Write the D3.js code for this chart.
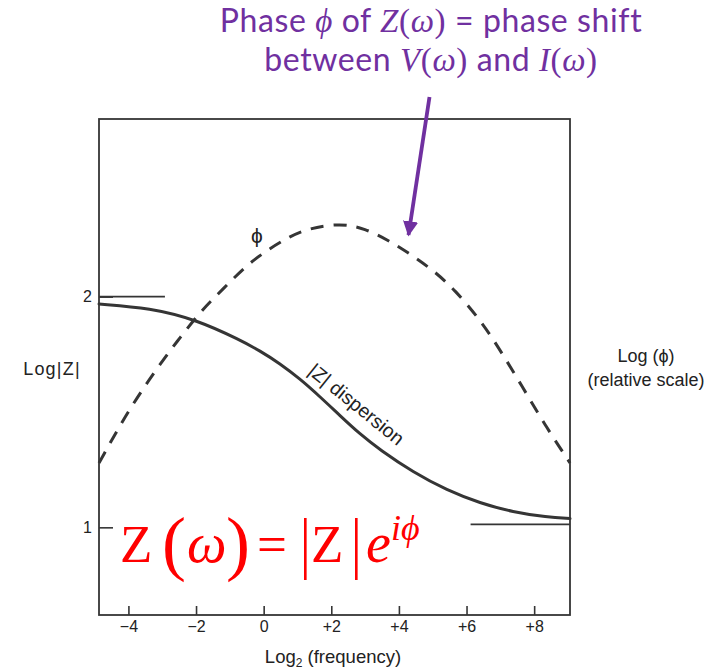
<!DOCTYPE html>
<html><head><meta charset="utf-8">
<script src="https://cdn.jsdelivr.net/npm/d3@7"></script>
<style>
html,body{margin:0;padding:0;background:#fff;}
svg{display:block;}
</style></head>
<body>
<script>
// ---- data ----
const xTicks = [-4, -2, 0, 2, 4, 6, 8];
const xTickLabels = ["\u22124", "\u22122", "0", "+2", "+4", "+6", "+8"];
const yTicks = [1, 2];
const yTickLabels = ["1", "2"];
// |Z| dispersion curve (log2 frequency, log|Z|)
const zFreq = [-4.87, -3.36, -1.97, -0.70, -0.11, 0.48, 1.07, 1.66, 2.26, 2.85, 3.44, 4.42, 5.42, 6.40, 7.37, 8.38, 9.06];
const zLog  = [1.968, 1.951, 1.899, 1.812, 1.765, 1.710, 1.644, 1.567, 1.484, 1.404, 1.336, 1.239, 1.161, 1.105, 1.066, 1.044, 1.038];
// phase curve (log2 frequency, log phi, relative scale)
const phiFreq = [-4.87, -3.95, -2.98, -2.48, -1.85, -1.38, -0.94, -0.46, 0.16, 0.78, 1.31, 2.29, 3.00, 3.68, 4.33, 5.01, 5.66, 6.40, 6.90, 7.67, 8.32, 9.06];
const phiLog  = [1.279, 1.521, 1.725, 1.821, 1.938, 2.007, 2.072, 2.141, 2.207, 2.261, 2.295, 2.319, 2.295, 2.245, 2.185, 2.115, 2.029, 1.899, 1.791, 1.605, 1.443, 1.279];
// asymptotes
const lowAsym = {from: -4.87, to: -2.92, value: 2.0};
const highAsym = {from: 6.12, to: 9.06, value: 1.013};

const W = 722, H = 670;
const ink = "#353535";
const purple = "#7030A0";
const svg = d3.select("body").append("svg").attr("width", W).attr("height", H);

const x = d3.scaleLinear().domain([-4.87, 9.06]).range([99, 570]);
const y = d3.scaleLinear().domain([0.62, 2.77]).range([615, 119]);
const yPhi = d3.scaleLinear().domain([0.62, 2.77]).range([615, 119]);

// frame
svg.append("rect").attr("x", x.range()[0]).attr("y", y.range()[1])
  .attr("width", x.range()[1] - x.range()[0]).attr("height", y.range()[0] - y.range()[1])
  .attr("fill", "none").attr("stroke", ink).attr("stroke-width", 1.8);

const sans = "Liberation Sans, Arial, sans-serif";

// bottom axis: ticks pointing inward
const xAxis = d3.axisBottom(x).tickValues(xTicks).tickSize(-9)
  .tickFormat((d, i) => xTickLabels[i]).tickPadding(6);
const gx = svg.append("g").attr("transform", `translate(0,${y.range()[0]})`).call(xAxis);
gx.select(".domain").remove();
gx.selectAll(".tick line").attr("stroke", ink).attr("stroke-width", 1.6);
gx.selectAll(".tick text").attr("fill", "#222").attr("font-family", sans).attr("font-size", 16);

// left axis
const yAxis = d3.axisLeft(y).tickValues(yTicks).tickSize(-14)
  .tickFormat((d, i) => yTickLabels[i]).tickPadding(7);
const gy = svg.append("g").attr("transform", `translate(${x.range()[0]},0)`).call(yAxis);
gy.select(".domain").remove();
gy.selectAll(".tick line").attr("stroke", ink).attr("stroke-width", 1.6);
gy.selectAll(".tick text").attr("fill", "#222").attr("font-family", sans).attr("font-size", 16);

// asymptote lines
[lowAsym, highAsym].forEach(a => {
  svg.append("line").attr("x1", x(a.from)).attr("x2", x(a.to))
    .attr("y1", y(a.value)).attr("y2", y(a.value))
    .attr("stroke", ink).attr("stroke-width", 1.6);
});

// curves
const zData = zFreq.map((f, i) => [f, zLog[i]]);
const phiData = phiFreq.map((f, i) => [f, phiLog[i]]);
const zLine = d3.line().x(d => x(d[0])).y(d => y(d[1])).curve(d3.curveBasis);
const phiLine = d3.line().x(d => x(d[0])).y(d => yPhi(d[1])).curve(d3.curveBasis);

svg.append("path").attr("d", zLine(zData)).attr("fill", "none")
  .attr("stroke", ink).attr("stroke-width", 3).attr("stroke-linecap", "round");
svg.append("path").attr("d", phiLine(phiData)).attr("fill", "none")
  .attr("stroke", ink).attr("stroke-width", 3).attr("stroke-dasharray", "13,10");

// curve labels
svg.append("text").attr("x", 257).attr("y", 243).attr("text-anchor", "middle")
  .attr("font-family", sans).attr("font-size", 21).attr("fill", "#222").text("\u03D5");
svg.append("text").attr("transform", "translate(307,373) rotate(39)")
  .attr("font-family", sans).attr("font-size", 19.5).attr("fill", "#222").text("|Z| dispersion");

// axis titles
svg.append("text").attr("x", 52).attr("y", 375).attr("text-anchor", "middle")
  .attr("font-family", sans).attr("font-size", 18).attr("letter-spacing", 1.2).attr("fill", "#222").text("Log|Z|");
const rt = svg.append("text").attr("text-anchor", "middle").attr("font-family", sans)
  .attr("font-size", 18).attr("fill", "#222");
rt.append("tspan").attr("x", 646).attr("y", 362).text("Log (\u03D5)");
rt.append("tspan").attr("x", 646).attr("y", 386).text("(relative scale)");
const bt = svg.append("text").attr("x", 333).attr("y", 663).attr("text-anchor", "middle")
  .attr("font-family", sans).attr("font-size", 18.5).attr("fill", "#222");
bt.append("tspan").text("Log");
bt.append("tspan").attr("font-size", 12).attr("dy", 4).text("2");
bt.append("tspan").attr("dy", -4).text(" (frequency)");

// purple title
const gs = "Lato, 'Open Sans', sans-serif";
const serif = "Liberation Serif, 'Times New Roman', serif";
function titleLine(yPos, parts) {
  const t = svg.append("text").attr("x", 431).attr("y", yPos).attr("text-anchor", "middle")
    .attr("fill", purple).attr("font-size", 32).attr("letter-spacing", 0.6).attr("font-family", gs);
  parts.forEach(p => {
    const s = t.append("tspan").text(p[0]);
    if (p[1] === "si") s.attr("font-family", serif).attr("font-style", "italic").attr("font-size", 33);
    if (p[1] === "s") s.attr("font-family", serif).attr("font-size", 33);
  });
}
titleLine(32, [["Phase "], ["\u03D5", "si"], [" of "], ["Z", "si"], ["(", "s"], ["\u03C9", "si"], [")", "s"], [" = phase shift"]]);
titleLine(71, [["between "], ["V", "si"], ["(", "s"], ["\u03C9", "si"], [")", "s"], [" and "], ["I", "si"], ["(", "s"], ["\u03C9", "si"], [")", "s"]]);

// arrow
const defs = svg.append("defs");
defs.append("marker").attr("id", "ah").attr("viewBox", "0 0 10 10").attr("refX", 9).attr("refY", 5)
  .attr("markerWidth", 4).attr("markerHeight", 4.2).attr("markerUnits", "strokeWidth").attr("orient", "auto")
  .append("path").attr("d", "M0,0 L10,5 L0,10 Z").attr("fill", purple);
svg.append("line").attr("x1", 429.5).attr("y1", 97).attr("x2", 408.5).attr("y2", 235)
  .attr("stroke", purple).attr("stroke-width", 3.8).attr("marker-end", "url(#ah)");

// red formula
const red = "#FF0000";
const F = svg.append("g").attr("fill", red).attr("font-family", serif);
function piece(txt, xp, yp, size, italic, sy) {
  const t = F.append("text").attr("font-size", size)
    .attr("font-style", italic ? "italic" : "normal").text(txt);
  if (sy) t.attr("transform", `translate(${xp},${yp}) scale(1,${sy})`);
  else t.attr("x", xp).attr("y", yp);
}
piece("Z", 120, 562, 53, false);
piece("(", 162, 567, 72, false);
piece("\u03C9", 187, 562, 56, true);
piece(")", 226, 567, 72, false);
piece("=", 257, 562, 53, false);
piece("|", 300, 566, 53, false, 1.26);
piece("Z", 311, 562, 53, false);
piece("|", 351, 566, 53, false, 1.26);
piece("e", 366, 562, 56, true);
piece("i\u03D5", 391, 540, 36, true);
</script>
</body></html>
